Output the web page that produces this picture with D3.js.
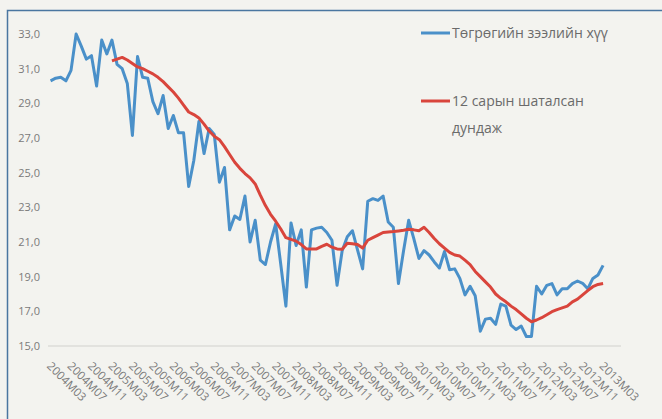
<!DOCTYPE html>
<html>
<head>
<meta charset="utf-8">
<script src="https://cdn.jsdelivr.net/npm/d3@7"></script>
<style>
  body { margin: 0; background: #f3f3ef; }
  svg { display: block; font-family: "Open Sans", sans-serif; }
</style>
</head>
<body>
<svg id="mysvg" width="662" height="419"></svg>
<script>
// months 2004M03 .. 2013M03
const startYear = 2004, startMonth = 3, monthCount = 109;
const months = [];
for (let k = 0; k < monthCount; k++) {
  const m = startMonth - 1 + k;
  months.push(startYear + Math.floor(m / 12) + "M" + String((m % 12) + 1).padStart(2, "0"));
}

// every 4th month is labelled
const tickLabels = [
  "2004M03", "2004M07", "2004M11", "2005M03", "2005M07", "2005M11",
  "2006M03", "2006M07", "2006M11", "2007M03", "2007M07", "2007M11",
  "2008M03", "2008M07", "2008M11", "2009M03", "2009M07", "2009M11",
  "2010M03", "2010M07", "2010M11", "2011M03", "2011M07", "2011M11",
  "2012M03", "2012M07", "2012M11", "2013M03"
];

const yTicks = [15, 17, 19, 21, 23, 25, 27, 29, 31, 33];

// Төгрөгийн зээлийн хүү
const loanRate = [
  30.3, 30.45, 30.5, 30.3, 30.9, 33.0, 32.3, 31.55, 31.75, 30.0,
  32.65, 31.85, 32.65, 31.25, 31.0, 30.15, 27.15, 31.7, 30.5, 30.45,
  29.1, 28.4, 29.45, 27.55, 28.3, 27.3, 27.3, 24.2, 25.7, 27.95,
  26.1, 27.55, 27.2, 24.45, 25.3, 21.7, 22.5, 22.3, 23.65, 21.0,
  22.25, 19.95, 19.7, 21.0, 22.05, 19.7, 17.3, 22.1, 20.8, 21.7,
  18.4, 21.7, 21.8, 21.85, 21.55, 21.1, 18.5, 20.5, 21.3, 21.65,
  20.55, 19.45, 23.35, 23.5, 23.4, 23.65, 22.15, 21.85, 18.6, 20.5,
  22.25, 21.2, 20.05, 20.5, 20.25, 19.85, 19.5, 20.45, 19.4, 19.45,
  18.9, 17.95, 18.45, 17.9, 15.85, 16.55, 16.6, 16.25, 17.42, 17.3,
  16.2, 15.95, 16.15, 15.55, 15.55, 18.45, 18.0, 18.5, 18.6, 17.95,
  18.3, 18.3, 18.6, 18.75, 18.62, 18.3, 18.9, 19.1, 19.65
];

// 12 сарын шаталсан дундаж (starts at 2005M03)
const movingAvg = [
  null, null, null, null, null, null, null, null, null, null, null, null,
  31.45, 31.55, 31.65, 31.5, 31.3, 31.1, 31.0, 30.85, 30.7, 30.5,
  30.25, 29.95, 29.65, 29.3, 28.9, 28.5, 28.35, 28.15, 27.8, 27.4,
  27.1, 26.9, 26.5, 26.05, 25.6, 25.25, 24.95, 24.7, 24.35, 23.7,
  23.1, 22.6, 22.2, 21.75, 21.25, 21.15, 21.05, 20.85, 20.6, 20.6,
  20.6, 20.75, 20.87, 20.7, 20.6, 20.58, 20.93, 20.9, 20.85, 20.65,
  21.1, 21.25, 21.4, 21.55, 21.58, 21.6, 21.64, 21.68, 21.73, 21.7,
  21.65, 21.85, 21.55, 21.2, 20.9, 20.65, 20.4, 20.25, 20.19, 19.95,
  19.7, 19.3, 19.0, 18.7, 18.4, 18.0, 17.75, 17.55, 17.3, 17.1,
  16.85, 16.6, 16.4, 16.5, 16.63, 16.8, 16.98, 17.1, 17.2, 17.3,
  17.55, 17.7, 17.95, 18.2, 18.42, 18.55, 18.6
];

const series = [
  { name: "Төгрөгийн зээлийн хүү", values: loanRate, color: "#4a90c9" },
  { name: "12 сарын шаталсан дундаж", values: movingAvg, color: "#d9453c" }
];

const svg = d3.select("#mysvg");

// outer frame of the chart object
svg.append("rect")
  .attr("x", 7.5).attr("y", 10.5)
  .attr("width", 700).attr("height", 450)
  .attr("fill", "#f3f3ef")
  .attr("stroke", "#4a76a0")
  .attr("stroke-width", 1.5);

// x over month index; axis runs a few empty months past 2013M03
const x = d3.scaleLinear().domain([-0.5, 111.5]).range([48, 621]);
const y = d3.scaleLinear().domain([15, 33]).range([346, 34]);

// y axis, labels only
const yAxis = svg.append("g")
  .attr("transform", "translate(46,0)")
  .call(d3.axisLeft(y).tickValues(yTicks).tickSize(0).tickPadding(6)
    .tickFormat((d) => d3.format(".1f")(d).replace(".", ",")));
yAxis.select(".domain").remove();
yAxis.selectAll("text")
  .attr("fill", "#7a7a7a")
  .style("font-size", "11px")
  .style("font-family", "Open Sans, sans-serif");

// category axis line
svg.append("line")
  .attr("x1", x.range()[0]).attr("x2", x.range()[1])
  .attr("y1", y(15)).attr("y2", y(15))
  .attr("stroke", "#dcdcd8")
  .attr("stroke-width", 1.5);

// rotated month labels
const tickIdx = tickLabels.map((t) => months.indexOf(t));
const xAxis = svg.append("g")
  .attr("transform", "translate(0," + y(15) + ")")
  .call(d3.axisBottom(x).tickValues(tickIdx).tickSize(0)
    .tickFormat((d) => months[d]));
xAxis.select(".domain").remove();
xAxis.selectAll("text")
  .attr("fill", "#7a7a7a")
  .style("font-size", "11.5px")
  .style("font-family", "Open Sans, sans-serif")
  .attr("text-anchor", "start")
  .attr("y", 0)
  .attr("dy", "0.71em")
  .attr("transform", (d) => "translate(1,15) rotate(45)");

// lines
const line = d3.line()
  .defined((d) => d != null)
  .x((d, i) => x(i))
  .y((d) => y(d));

series.forEach((s) => {
  svg.append("path")
    .datum(s.values)
    .attr("fill", "none")
    .attr("stroke", s.color)
    .attr("stroke-width", 3)
    .attr("stroke-linejoin", "round")
    .attr("d", line);
});

// legend
const legend = svg.append("g").attr("class", "legend");
const legendRows = [
  { y: 33, lines: ["Төгрөгийн зээлийн хүү"] },
  { y: 101, lines: ["12 сарын шаталсан", "дундаж"] }
];
legendRows.forEach((row, k) => {
  legend.append("line")
    .attr("x1", 421).attr("x2", 450)
    .attr("y1", row.y).attr("y2", row.y)
    .attr("stroke", series[k].color)
    .attr("stroke-width", 3);
  row.lines.forEach((t, j) => {
    legend.append("text")
      .attr("x", 452)
      .attr("y", row.y + j * 27)
      .attr("dy", "0.35em")
      .attr("fill", "#6a6a6a")
      .style("font-size", "14px")
      .text(t);
  });
});
</script>
</body>
</html>
